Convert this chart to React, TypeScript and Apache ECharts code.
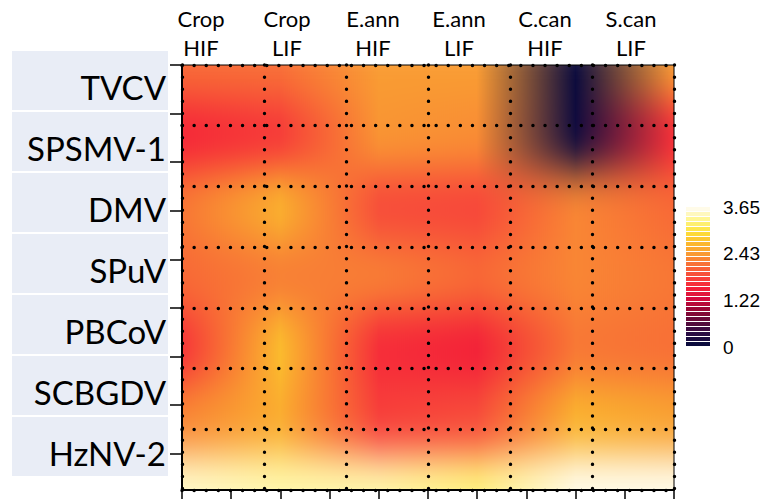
import React, { useEffect, useRef } from 'react';
import * as echarts from 'echarts';

// ---- data ----
const columns = ['Crop\nHIF', 'Crop\nLIF', 'E.ann\nHIF', 'E.ann\nLIF', 'C.can\nHIF', 'S.can\nLIF'];
const rows = ['TVCV', 'SPSMV-1', 'DMV', 'SPuV', 'PBCoV', 'SCBGDV', 'HzNV-2'];

// values per row, in the column order above
const TVCV = [2.1, 2.15, 2.45, 2.45, 0.0, 2.45];
const SPSMV1 = [1.55, 1.7, 2.4, 2.35, 0.05, 1.6];
const DMV = [2.2, 2.65, 1.85, 1.8, 2.3, 2.1];
const SPuV = [2.1, 2.25, 2.25, 2.1, 2.3, 2.2];
const PBCoV = [1.65, 2.75, 1.6, 1.5, 2.2, 2.15];
const SCBGDV = [2.3, 2.6, 1.75, 1.85, 2.65, 2.5];
const HzNV2 = [3.55, 3.45, 3.45, 3.3, 3.65, 3.65];
const rowValues = [TVCV, SPSMV1, DMV, SPuV, PBCoV, SCBGDV, HzNV2];

const scaleMin = 0;
const scaleMax = 3.65;
const scaleTickLabels = ['0', '1.22', '2.43', '3.65'];
const colorStops = [
  '#0b0b3d', '#2c0c44', '#5c0a3a', '#930634', '#d30a3c', '#f52238', '#f7493a',
  '#f86c36', '#f99a33', '#fbbb2c', '#fde23a', '#fff58a', '#fffbe8',
];

// one segment per pair of neighbouring cells in a row: [col, row, value, nextValue]
const segData: number[][] = [];
rowValues.forEach((vals, j) => {
  for (let i = 0; i < vals.length - 1; i++) segData.push([i, j, vals[i], vals[i + 1]]);
});

const colorOf = (v: number) => echarts.color.lerp((v - scaleMin) / (scaleMax - scaleMin), colorStops) as string;

const dotted = { color: '#000', width: 3.4, type: [0.1, 12], cap: 'round' };

export default function App() {
  const heatRef = useRef<HTMLDivElement>(null);
  const mainRef = useRef<HTMLDivElement>(null);

  useEffect(() => {
    const heat = echarts.init(heatRef.current!, null, { renderer: 'svg' });
    heat.setOption({
      animation: false,
      grid: { left: 0, right: 0, top: 40, bottom: 40 },
      xAxis: { type: 'category', data: columns, boundaryGap: false, show: false },
      yAxis: { type: 'category', data: rows, inverse: true, boundaryGap: false, show: false },
      series: [
        {
          type: 'custom',
          data: segData,
          renderItem: (params: any, api: any) => {
            const i = api.value(0);
            const j = api.value(1);
            const p0 = api.coord([i, j]);
            const p1 = api.coord([i + 1, j]);
            const pr = api.coord([i, j < rows.length - 1 ? j + 1 : j - 1]);
            const dy = Math.abs(pr[1] - p0[1]);
            return {
              type: 'rect',
              shape: { x: p0[0] - 0.5, y: p0[1] - dy / 2 - 0.5, width: p1[0] - p0[0] + 1, height: dy + 1 },
              style: {
                fill: new echarts.graphic.LinearGradient(0, 0, 1, 0, [
                  { offset: 0, color: colorOf(api.value(2)) },
                  { offset: 1, color: colorOf(api.value(3)) },
                ]),
              },
            };
          },
        },
      ],
    });

    const main = echarts.init(mainRef.current!, null, { renderer: 'svg' });
    const hidden = { show: false, min: 0, max: 1 };
    main.setOption({
      animation: false,
      backgroundColor: 'transparent',
      grid: [
        { left: 182, top: 65, width: 492, height: 425, show: true, borderColor: '#000', borderWidth: 1, backgroundColor: 'transparent' },
        { left: 182, top: 65, width: 492, height: 388.8 },
        { left: 158, top: 65, width: 516, height: 10 },
        { left: 12, top: 50, width: 156, height: 427 },
        { left: 686, top: 207, width: 24, height: 140 },
      ],
      xAxis: [
        {
          gridIndex: 0, type: 'category', data: columns, position: 'top', boundaryGap: true,
          axisLine: { show: false }, axisTick: { show: false }, axisLabel: { show: false },
          splitLine: { show: true, interval: 0, lineStyle: dotted },
        },
        {
          gridIndex: 0, type: 'value', min: 0, max: 10, interval: 1, position: 'bottom',
          axisLine: { show: true, lineStyle: { color: '#000', width: 2 } },
          axisTick: { show: true, length: 9, lineStyle: { color: '#000', width: 1.5 } },
          axisLabel: { show: false }, splitLine: { show: false },
        },
        { gridIndex: 1, type: 'value', ...hidden },
        {
          gridIndex: 2, type: 'category', data: columns, position: 'top',
          axisLine: { show: false }, axisTick: { show: false },
          axisLabel: { interval: 0, margin: 3, fontSize: 22, lineHeight: 29, fontFamily: 'Lato', color: '#000' },
        },
        { gridIndex: 3, type: 'value', ...hidden },
        { gridIndex: 4, type: 'value', ...hidden },
      ],
      yAxis: [
        {
          gridIndex: 0, type: 'category', data: rows, inverse: true,
          axisLine: { show: true, lineStyle: { color: '#000', width: 2 } },
          axisTick: { show: false }, axisLabel: { show: false },
          splitLine: { show: true, interval: 0, lineStyle: dotted },
        },
        {
          gridIndex: 1, type: 'value', min: 0, max: 8, interval: 1, inverse: true,
          axisLine: { show: false },
          axisTick: { show: true, length: 12, lineStyle: { color: '#000', width: 1.5 } },
          axisLabel: { show: false }, splitLine: { show: false },
        },
        { gridIndex: 2, type: 'value', ...hidden },
        {
          gridIndex: 3, type: 'category', data: rows, inverse: true, position: 'right',
          axisLine: { show: false }, axisTick: { show: false },
          splitArea: { show: true, interval: 0, areaStyle: { color: ['#E9EDF6'] } },
          splitLine: { show: true, interval: 0, lineStyle: { color: '#fff', width: 2 } },
          axisLabel: {
            interval: 0, inside: true, margin: 2, fontSize: 33, fontFamily: 'Lato', color: '#000',
            verticalAlign: 'top', lineHeight: 13,
          },
        },
        {
          gridIndex: 4, type: 'category', data: scaleTickLabels, boundaryGap: false, position: 'right',
          axisLine: { show: false }, axisTick: { show: false }, splitLine: { show: false },
          axisLabel: { interval: 0, margin: 13, fontSize: 19, fontFamily: 'Liberation Sans', color: '#000' },
        },
      ],
      visualMap: {
        type: 'piecewise', min: scaleMin, max: scaleMax, splitNumber: 28, orient: 'vertical',
        left: 686, top: 207, itemWidth: 24, itemHeight: 4, itemGap: 1, itemSymbol: 'rect',
        showLabel: false, inRange: { color: colorStops }, padding: 0,
      },
      series: [],
    });

    return () => {
      heat.dispose();
      main.dispose();
    };
  }, []);

  return (
    <div style={{ position: 'fixed', left: 0, top: 0, width: 768, height: 499, background: '#fff' }}>
      <svg width={0} height={0} style={{ position: 'absolute' }}>
        <defs>
          <filter id="heatBlur" x="0" y="0" width="1" height="1" colorInterpolationFilters="sRGB">
            <feGaussianBlur stdDeviation="0 21" edgeMode="duplicate" />
          </filter>
        </defs>
      </svg>
      <div style={{ position: 'absolute', left: 182, top: 65, width: 492, height: 425, overflow: 'hidden' }}>
        <div
          ref={heatRef}
          style={{ position: 'absolute', left: 0, top: -40, width: 492, height: 505, filter: 'url(#heatBlur)' }}
        />
      </div>
      <div ref={mainRef} style={{ position: 'absolute', left: 0, top: 0, width: 768, height: 499 }} />
    </div>
  );
}
